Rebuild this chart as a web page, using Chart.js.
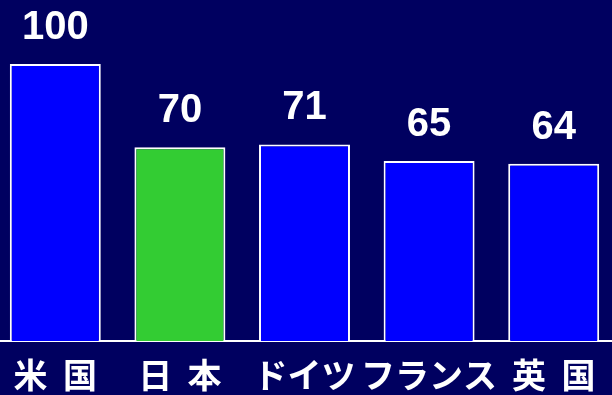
<!DOCTYPE html>
<html>
<head>
<meta charset="utf-8">
<script src="https://cdn.jsdelivr.net/npm/chart.js@4"></script>
<style>
    html, body { margin: 0; padding: 0; background: #000060; overflow: hidden; }
    #wrap { position: absolute; left: -7px; top: 0; width: 623px; height: 408px; }
</style>
</head>
<body>
<div id="wrap"><canvas id="mainChart"></canvas></div>
<script>
// 国別指数（米国 = 100）
const countries = ['米  国', '日  本', 'ドイツ', 'フランス', '英  国'];
const indexValues = [100, 70, 71, 65, 64];
const barColors = ['#0000ff', '#33cc33', '#0000ff', '#0000ff', '#0000ff'];

// 棒の上に数値を描く
const valueLabels = {
    id: 'valueLabels',
    afterDatasetsDraw(chart) {
        const ctx = chart.ctx;
        const meta = chart.getDatasetMeta(0);
        ctx.save();
        ctx.fillStyle = '#ffffff';
        ctx.font = 'bold 40px "Liberation Sans", Arial, sans-serif';
        ctx.textAlign = 'center';
        ctx.textBaseline = 'alphabetic';
        meta.data.forEach((bar, i) => {
            ctx.fillText(String(indexValues[i]), bar.x, bar.y - 25);
        });
        ctx.restore();
    }
};

const ctx = document.getElementById('mainChart').getContext('2d');
new Chart(ctx, {
    type: 'bar',
    data: {
        labels: countries,
        datasets: [{
            data: indexValues,
            backgroundColor: barColors,
            borderColor: '#ffffff',
            borderWidth: 2,
            barPercentage: 0.73,
            categoryPercentage: 1
        }]
    },
    options: {
        responsive: true,
        maintainAspectRatio: false,
        animation: false,
        layout: { padding: { top: 64, left: 0, right: 0, bottom: 0 } },
        plugins: {
            legend: { display: false },
            tooltip: { enabled: false }
        },
        scales: {
            x: {
                grid: { display: false, drawTicks: false },
                border: { display: true, color: '#ffffff', width: 2 },
                ticks: {
                    color: '#ffffff',
                    padding: 13,
                    maxRotation: 0,
                    autoSkip: false,
                    font: { family: '"Noto Sans CJK JP"', size: 34, weight: 'bold' }
                }
            },
            y: {
                display: false,
                min: 0,
                max: 100
            }
        }
    },
    plugins: [valueLabels]
});
</script>
</body>
</html>
